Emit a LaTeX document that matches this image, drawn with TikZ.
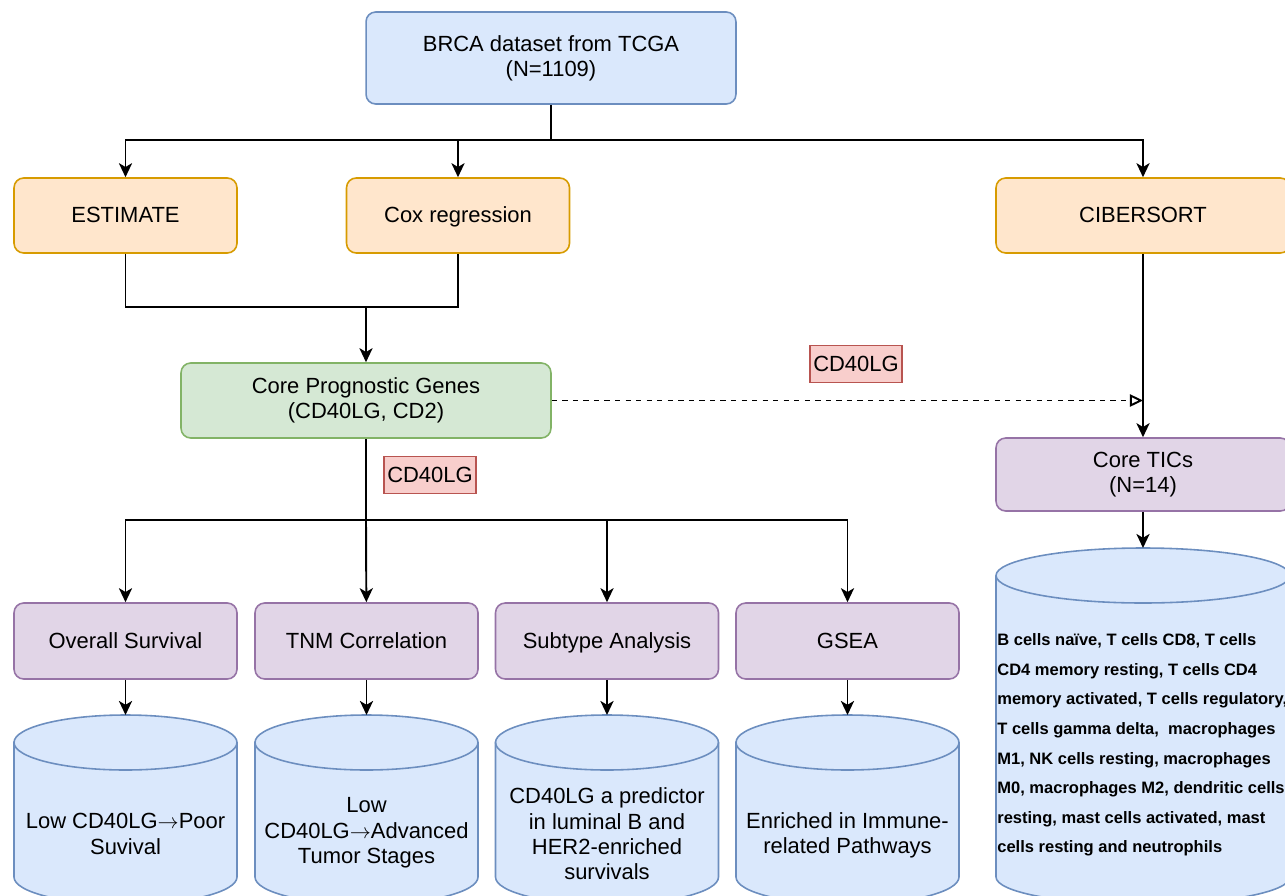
\documentclass[tikz,border=0pt]{standalone}
\usepackage{fontspec}
\setmainfont{Liberation Sans}
\usepackage{tikz}
\usetikzlibrary{arrows.meta}
\definecolor{dbblue}{HTML}{DAE8FC}
\definecolor{dbblueline}{HTML}{6C8EBF}
\definecolor{dborange}{HTML}{FFE6CC}
\definecolor{dborangeline}{HTML}{D79B00}
\definecolor{dbgreen}{HTML}{D5E8D4}
\definecolor{dbgreenline}{HTML}{82B366}
\definecolor{dbpurple}{HTML}{E1D5E7}
\definecolor{dbpurpleline}{HTML}{9673A6}
\definecolor{dbred}{HTML}{F8CECC}
\definecolor{dbredline}{HTML}{B85450}

% cylinder: name, centre x, top y, half width
\newcommand{\dbcyl}[4]{%
  \filldraw[fill=dbblue, draw=dbblueline, line width=0.9pt]
    (#2-#4,-#3-27.5) -- (#2-#4,-877)
    arc[start angle=180, end angle=360, x radius=#4, y radius=27.5]
    -- (#2+#4,-#3-27.5)
    arc[start angle=0, end angle=180, x radius=#4, y radius=27.5] -- cycle;
  \draw[draw=dbblueline, line width=0.9pt] (#2-#4,-#3-27.5)
    arc[start angle=180, end angle=360, x radius=#4, y radius=27.5];
  \coordinate (#1) at (#2,-#3);
}
\newcommand{\yields}{$\rightarrow$}

\begin{document}
\begin{tikzpicture}[x=0.02cm, y=0.02cm,
  box/.style={draw, rounded corners=5.5pt, line width=0.9pt, align=center,
    minimum width=4.46cm, minimum height=1.5cm,
    font=\fontsize{12.5}{14.4}\selectfont},
  bluebox/.style={box, fill=dbblue, draw=dbblueline},
  orangebox/.style={box, fill=dborange, draw=dborangeline},
  greenbox/.style={box, fill=dbgreen, draw=dbgreenline},
  purplebox/.style={box, fill=dbpurple, draw=dbpurpleline},
  oneline/.style={text height=2ex, text depth=0.4ex},
  tag/.style={draw=dbredline, fill=dbred, line width=0.9pt, inner sep=0pt,
    minimum width=1.84cm, minimum height=0.74cm,
    font=\fontsize{12.5}{14.4}\selectfont},
  dbtext/.style={align=center, inner sep=0pt, font=\fontsize{12.5}{14.4}\selectfont},
  arr/.style={-{Stealth[length=8pt, width=7.5pt, inset=2.2pt]}, line width=1.1pt},
  link/.style={line width=1.1pt},
  dashlink/.style={-{Triangle[open, length=7.5pt, width=7pt]}, line width=1.1pt,
    dash pattern=on 3pt off 3pt}]
\useasboundingbox (0,0) rectangle (1285,-896);

% Dataset
\node[bluebox, minimum width=7.4cm, minimum height=1.84cm] (brca) at (551,-58)
  {BRCA dataset from TCGA\\(N=1109)};

% Methods
\node[orangebox, oneline] (estimate) at (125.5,-215.5) {ESTIMATE};
\node[orangebox, oneline] (cox) at (458,-215.5) {Cox regression};
\node[orangebox, oneline, minimum width=5.88cm] (cibersort) at (1143,-215.5) {CIBERSORT};

% Genes and TICs
\node[greenbox, minimum width=7.4cm] (core) at (366,-400.5)
  {Core Prognostic Genes\\(CD40LG, CD2)};
\node[purplebox, minimum width=5.88cm, minimum height=1.46cm] (tics) at (1143,-474.5)
  {Core TICs\\ (N=14)};

% Analyses
\node[purplebox, oneline, minimum height=1.52cm] (os) at (125.5,-641) {Overall Survival};
\node[purplebox, oneline, minimum height=1.52cm] (tnm) at (366.5,-641) {TNM Correlation};
\node[purplebox, oneline, minimum height=1.52cm] (subtype) at (607,-641) {Subtype Analysis};
\node[purplebox, oneline, minimum height=1.52cm] (gsea) at (847.5,-641) {GSEA};

% Results
\dbcyl{ostop}{125.5}{715}{111.5}
\dbcyl{tnmtop}{366.5}{715}{111.5}
\dbcyl{subtop}{607}{715}{111.5}
\dbcyl{gseatop}{847.5}{715}{111.5}
\dbcyl{ticstop}{1143}{548}{147}
\node[dbtext] (osres) at (125.5,-834) {Low CD40LG\yields Poor\\Suvival};
\node[dbtext] (tnmres) at (366.5,-833) {Low\\CD40LG\yields Advanced\\Tumor Stages};
\node[dbtext] (subres) at (607,-834)
  {CD40LG a predictor\\in luminal B and\\HER2-enriched\\survivals};
\node[dbtext] (gsearres) at (847.5,-835) {Enriched in Immune-\\related Pathways};
\node[anchor=west, align=left, inner sep=0pt,
  font=\fontsize{9.4}{16.8}\selectfont\bfseries] (ticlist) at (997,-745)
  {B cells naïve, T cells CD8, T cells\\
   CD4 memory resting, T cells CD4\\
   memory activated, T cells regulatory,\\
   T cells gamma delta,\ \ macrophages\\
   M1, NK cells resting, macrophages\\
   M0, macrophages M2, dendritic cells\\
   resting, mast cells activated, mast\\
   cells resting and neutrophils};

% Gene tags
\node[tag, oneline] (tagtop) at (856,-364) {CD40LG};
\node[tag, oneline] (tagmid) at (430,-475) {CD40LG};

% Junctions
\coordinate (split) at (551,-140);
\coordinate (merge) at (366,-307);
\coordinate (fan) at (366,-520);
\coordinate (meet) at (core.east -| cibersort.south);

% Connectors
\draw[link] (brca) -- (split);
\draw[arr] (split) -| (estimate);
\draw[arr] (split) -| (cox);
\draw[arr] (split) -| (cibersort);
\draw[link] (estimate) |- (merge) -| (cox);
\draw[arr] (merge) -- (core);
\draw[arr] (cibersort) -- (tics);
\draw[dashlink] (core) -- (meet);
\draw[link] (core) -- (fan);
\draw[arr] (fan) -| (os);
\draw[arr] (fan) -- (tnm);
\draw[arr] (fan) -| (subtype);
\draw[arr] (fan) -| (gsea);
\draw[arr] (os) -- (ostop);
\draw[arr] (tnm) -- (tnmtop);
\draw[arr] (subtype) -- (subtop);
\draw[arr] (gsea) -- (gseatop);
\draw[arr] (tics) -- (ticstop);
\end{tikzpicture}
\end{document}
